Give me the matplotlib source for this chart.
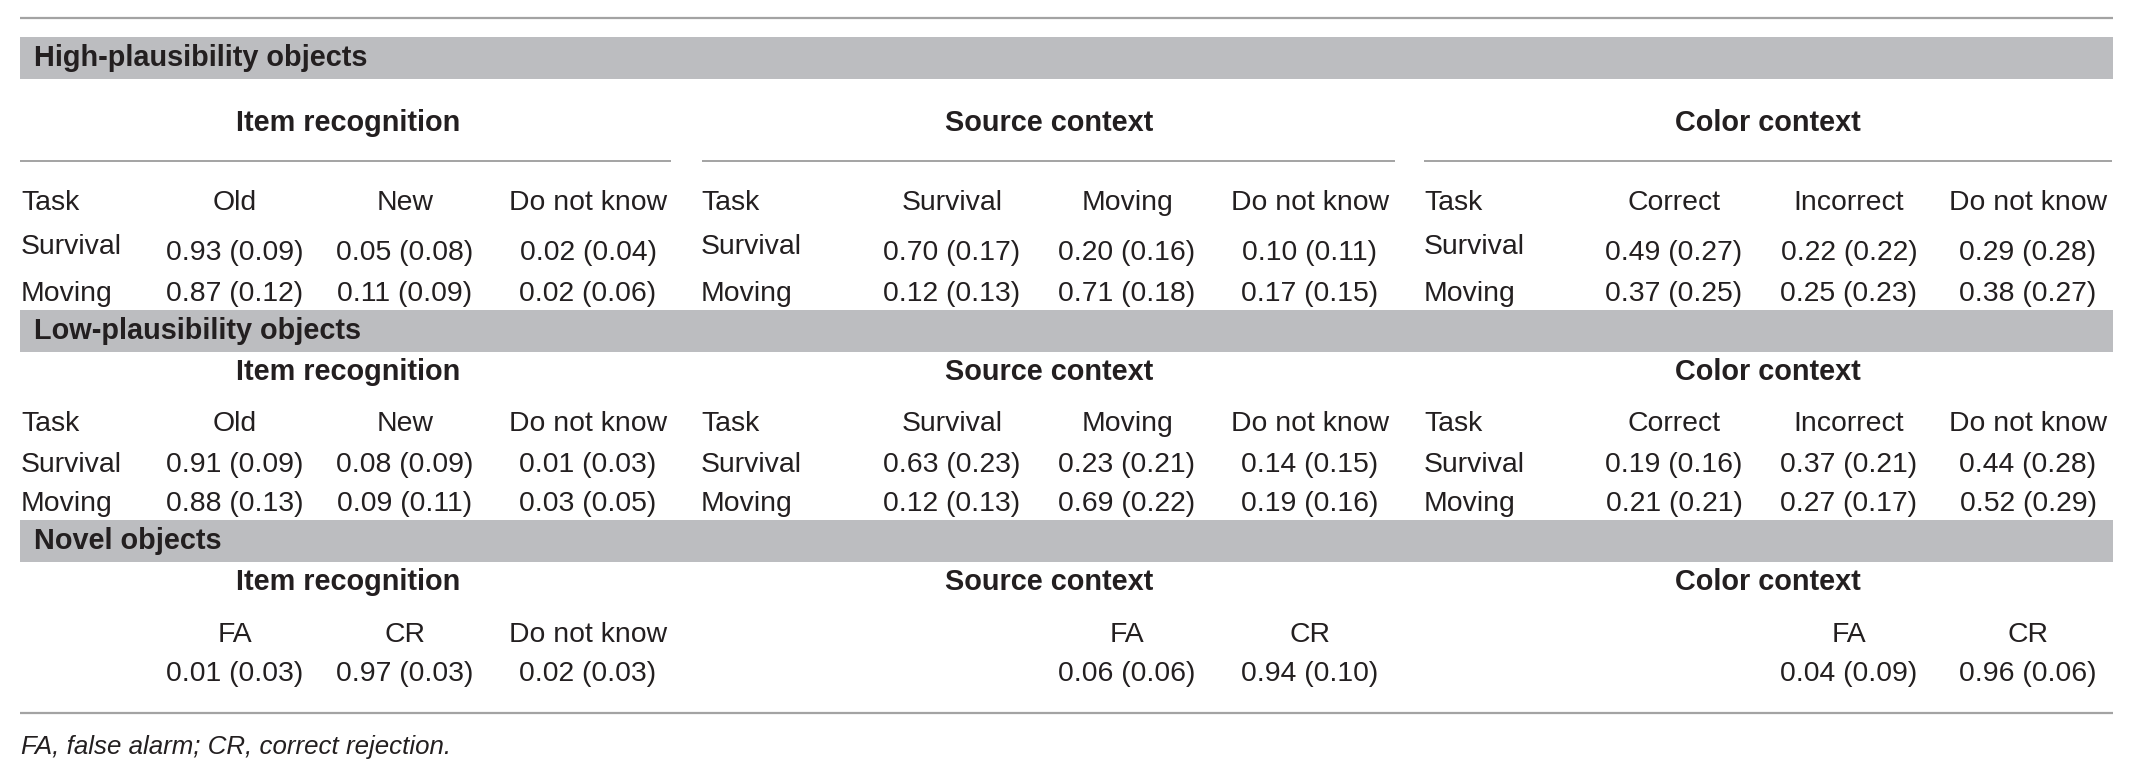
import matplotlib
matplotlib.use("Agg")
import matplotlib.pyplot as plt
from matplotlib import font_manager

# pick a Helvetica-like family that is installed
names = {f.name for f in font_manager.fontManager.ttflist}
FONT = "Liberation Sans" if "Liberation Sans" in names else "DejaVu Sans"
plt.rcParams["font.family"] = [FONT, "DejaVu Sans"]

TEXT = "#231f20"
BAND = "#bcbdc0"
RULE = "#a3a3a3"

# --- table content ---
sections = ["High-plausibility objects", "Low-plausibility objects", "Novel objects"]
blocks = ["Item recognition", "Source context", "Color context"]
block_cols = [["Old", "New", "Do not know"],
              ["Survival", "Moving", "Do not know"],
              ["Correct", "Incorrect", "Do not know"]]
tasks = ["Survival", "Moving"]

high_item_m = [[0.93, 0.05, 0.02], [0.87, 0.11, 0.02]]
high_item_sd = [[0.09, 0.08, 0.04], [0.12, 0.09, 0.06]]
high_src_m = [[0.70, 0.20, 0.10], [0.12, 0.71, 0.17]]
high_src_sd = [[0.17, 0.16, 0.11], [0.13, 0.18, 0.15]]
high_col_m = [[0.49, 0.22, 0.29], [0.37, 0.25, 0.38]]
high_col_sd = [[0.27, 0.22, 0.28], [0.25, 0.23, 0.27]]

low_item_m = [[0.91, 0.08, 0.01], [0.88, 0.09, 0.03]]
low_item_sd = [[0.09, 0.09, 0.03], [0.13, 0.11, 0.05]]
low_src_m = [[0.63, 0.23, 0.14], [0.12, 0.69, 0.19]]
low_src_sd = [[0.23, 0.21, 0.15], [0.13, 0.22, 0.16]]
low_col_m = [[0.19, 0.37, 0.44], [0.21, 0.27, 0.52]]
low_col_sd = [[0.16, 0.21, 0.28], [0.21, 0.17, 0.29]]

novel_cols = [["FA", "CR", "Do not know"], ["FA", "CR"], ["FA", "CR"]]
novel_item_m = [0.01, 0.97, 0.02]
novel_item_sd = [0.03, 0.03, 0.03]
novel_src_m = [0.06, 0.94]
novel_src_sd = [0.06, 0.10]
novel_col_m = [0.04, 0.96]
novel_col_sd = [0.09, 0.06]

footnote = "FA, false alarm; CR, correct rejection."

# --- layout (pixels) ---
W, H = 2137, 773
LEFT, RIGHT = 20, 2113
task_x = [21, 701, 1424]
col_x = [[235, 405, 588], [952, 1127, 1310], [1674, 1849, 2028]]
head_x = [348, 1049, 1768]
head_rule = [(20, 671), (702, 1395), (1424, 2112)]
novel_slots = [[0, 1, 2], [1, 2], [1, 2]]

band_y = [(37, 79), (310, 352), (520, 562)]
head_y = [123, 372, 582]
colhead_y = [203, 424, 635]
row_y = [[253, 294], [465, 504], [674]]

FS = 20.4
FS_B = 20.8


def cell(m, s):
    return f"{m:.2f} ({s:.2f})"


fig = plt.figure(figsize=(W / 100, H / 100), dpi=100)
ax = fig.add_axes([0, 0, 1, 1])
ax.set_xlim(0, W)
ax.set_ylim(H, 0)
ax.axis("off")

ax.plot([LEFT, RIGHT], [17.5, 17.5], color=RULE, lw=1.6, solid_capstyle="butt")
ax.plot([LEFT, RIGHT], [713, 713], color=RULE, lw=1.6, solid_capstyle="butt")

for i, name in enumerate(sections):
    top, bot = band_y[i]
    ax.fill_between([LEFT, RIGHT], top, bot, color=BAND, lw=0)
    ax.text(34, (top + bot) / 2, name, fontsize=FS_B, fontweight="bold",
            color=TEXT, ha="left", va="center")
    for b, bname in enumerate(blocks):
        ax.text(head_x[b], head_y[i], bname, fontsize=FS_B, fontweight="bold",
                color=TEXT, ha="center", va="center")

# rules under block titles (first section only)
for x0, x1 in head_rule:
    ax.plot([x0, x1], [161, 161], color=RULE, lw=1.4, solid_capstyle="butt")

# high and low sections
data = [[(high_item_m, high_item_sd), (high_src_m, high_src_sd), (high_col_m, high_col_sd)],
        [(low_item_m, low_item_sd), (low_src_m, low_src_sd), (low_col_m, low_col_sd)]]
for i in range(2):
    for b in range(3):
        ax.text(task_x[b], colhead_y[i], "Task", fontsize=FS, color=TEXT,
                ha="left", va="center")
        for c, cname in enumerate(block_cols[b]):
            ax.text(col_x[b][c], colhead_y[i], cname, fontsize=FS, color=TEXT,
                    ha="center", va="center")
        means, sds = data[i][b]
        for r, task in enumerate(tasks):
            ly = row_y[i][r] - (6 if (i == 0 and r == 0) else 0)
            ax.text(task_x[b], ly, task, fontsize=FS, color=TEXT,
                    ha="left", va="center")
            for c in range(3):
                ax.text(col_x[b][c], row_y[i][r], cell(means[r][c], sds[r][c]),
                        fontsize=FS, color=TEXT, ha="center", va="center")

# novel section
novel = [(novel_item_m, novel_item_sd), (novel_src_m, novel_src_sd), (novel_col_m, novel_col_sd)]
for b in range(3):
    means, sds = novel[b]
    for k, slot in enumerate(novel_slots[b]):
        x = col_x[b][slot]
        ax.text(x, colhead_y[2], novel_cols[b][k], fontsize=FS, color=TEXT,
                ha="center", va="center")
        ax.text(x, row_y[2][0], cell(means[k], sds[k]), fontsize=FS, color=TEXT,
                ha="center", va="center")

ax.text(21, 747, footnote, fontsize=18.6, style="italic", color=TEXT,
        ha="left", va="center")

fig.savefig("out.png", dpi=100, facecolor="white")
